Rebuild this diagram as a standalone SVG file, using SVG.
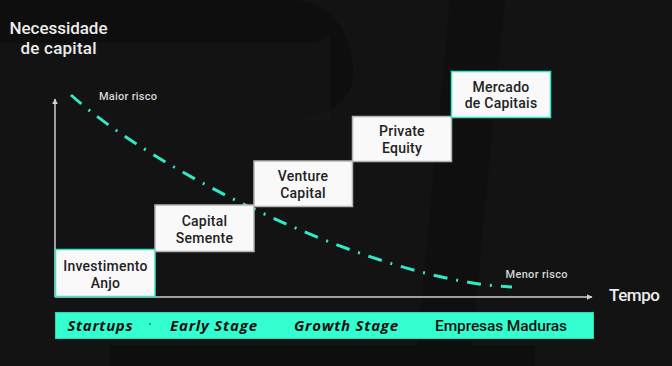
<svg xmlns="http://www.w3.org/2000/svg" width="672" height="366" viewBox="0 0 672 366">
<style>
.bg{fill:#131313}
.shade{fill:#0e0e0e}
.lite{fill:#171717}
.title{font-family:Roboto,"Liberation Sans",sans-serif;font-weight:500;font-size:17px;fill:#ececec}
.risk{font-family:Roboto,"Liberation Sans",sans-serif;font-weight:500;font-size:11px;fill:#d6d6d6}
.box{fill:#f9f9f9;stroke:#b3b3b3;stroke-width:1.5}
.box.hi{stroke:#33e6c4}
.lbl{font-family:Roboto,"Liberation Sans",sans-serif;font-weight:500;font-size:14px;fill:#222;text-anchor:middle;letter-spacing:0.25px}
.axis{stroke:#cfcfcf;stroke-width:1.5;fill:none}
.curve{stroke:#33e8c6;stroke-width:3;fill:none;stroke-dasharray:14 9 2 9}
.band{fill:#33ffd0;stroke:#2ad9b2;stroke-width:1}
.stage{font-family:Roboto,"Liberation Sans",sans-serif;font-weight:500;font-size:15.5px;fill:#111}
.stage.it{font-family:"Open Sans",Roboto,sans-serif;font-weight:700;font-size:15px;font-style:italic}
</style>
<defs>
<marker id="arr" viewBox="0 0 10 10" refX="9" refY="5" markerWidth="6" markerHeight="6" orient="auto-start-reverse" markerUnits="userSpaceOnUse">
<path d="M0,0 L10,5 L0,10 z" fill="#cfcfcf"/>
</marker>
</defs>
<rect class="bg" x="0" y="0" width="672" height="366"/>
<path class="shade" d="M0,0 H290 C345,0 360,60 350,90 C335,118 300,120 260,120 H0 Z"/>
<path class="lite" d="M0,43 H300 C320,43 330,40 330,30 V120 H0 Z" opacity="0.5"/>
<path class="shade" d="M450,0 H505 L470,366 H415 Z" opacity="0.6"/>
<path class="shade" d="M110,345 H535 V366 H110 Z" opacity="0.8"/>

<g id="axis-title-y"><text class="title" x="58.5" y="34" text-anchor="middle" textLength="98" lengthAdjust="spacing">Necessidade</text><text class="title" x="58.5" y="54" text-anchor="middle" textLength="76" lengthAdjust="spacing">de capital</text></g>
<g id="axis-title-x"><text class="title" x="609" y="301" textLength="51" lengthAdjust="spacing">Tempo</text></g>

<g id="connectors">
<line class="axis" x1="55" y1="297" x2="55" y2="99" marker-end="url(#arr)"/>
<line class="axis" x1="55" y1="297" x2="592" y2="297" marker-end="url(#arr)"/>
<path class="curve" d="M71,95 C160,175 380,282 512,287"/>
</g>

<g id="risk-high"><text class="risk" x="99" y="100" textLength="58" lengthAdjust="spacing">Maior risco</text></g>
<g id="risk-low"><text class="risk" x="505.5" y="278" textLength="62" lengthAdjust="spacing">Menor risco</text></g>

<g id="n-anjo"><rect class="box hi" x="55.5" y="249.5" width="99.5" height="47"/><text class="lbl" x="105.5" y="271">Investimento</text><text class="lbl" x="105.5" y="288">Anjo</text></g>
<g id="n-semente"><rect class="box" x="155" y="205" width="99" height="46.5"/><text class="lbl" x="204.5" y="226">Capital</text><text class="lbl" x="204.5" y="242.5">Semente</text></g>
<g id="n-venture"><rect class="box" x="254" y="161" width="98.5" height="45.5"/><text class="lbl" x="303" y="181">Venture</text><text class="lbl" x="303" y="197.5">Capital</text></g>
<g id="n-pe"><rect class="box" x="352.5" y="116.5" width="99" height="45"/><text class="lbl" x="402" y="136">Private</text><text class="lbl" x="402" y="152.5">Equity</text></g>
<g id="n-mercado"><rect class="box hi" x="451.5" y="71.5" width="99" height="46"/><text class="lbl" x="501" y="91.5">Mercado</text><text class="lbl" x="501" y="108">de Capitais</text></g>

<g id="stages">
<rect class="band" x="55.5" y="312.5" width="538" height="26"/>
<text class="stage it" x="67.5" y="331" textLength="65" lengthAdjust="spacing">Startups</text>
<circle cx="150" cy="324" r="0.8" fill="#111"/>
<text class="stage it" x="170" y="331" textLength="87" lengthAdjust="spacing">Early Stage</text>
<text class="stage it" x="294" y="331" textLength="104" lengthAdjust="spacing">Growth Stage</text>
<text class="stage" x="435" y="331" textLength="132" lengthAdjust="spacing">Empresas Maduras</text>
</g>
</svg>
